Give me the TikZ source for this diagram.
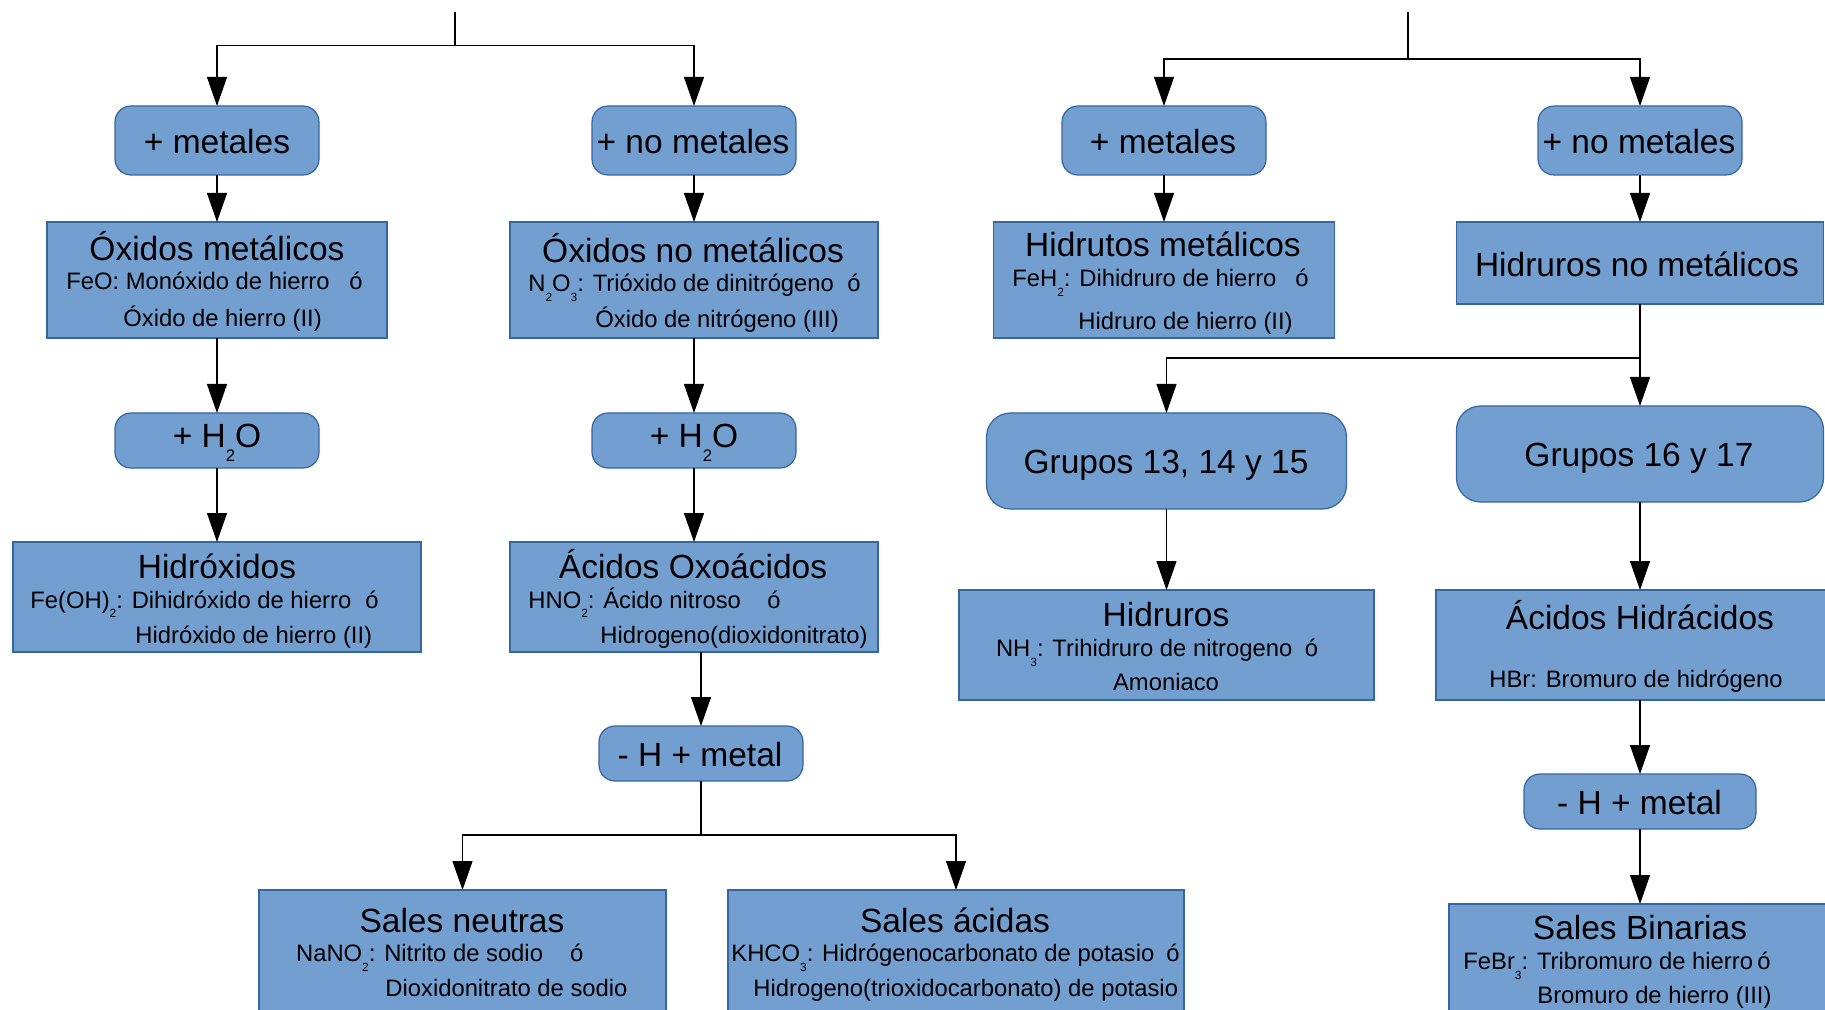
\documentclass[tikz,border=0pt]{standalone}
\usepackage{fontspec}
\setmainfont{Liberation Sans}
\usetikzlibrary{arrows.meta}
\definecolor{boxfill}{HTML}{729FCF}
\definecolor{boxline}{HTML}{3465A4}
% lowered, half-size subscript for chemical formulas
\newcommand{\dsub}[1]{\raisebox{-0.42em}{\scalebox{0.5}{#1}}}
\begin{document}
\begin{tikzpicture}[x=0.5pt,y=-0.5pt,
  box/.style={draw=boxline, fill=boxfill, line width=0.6pt, inner sep=0pt, outer sep=0pt},
  rbox/.style={box, rounded corners=8pt},
  gbox/.style={box, rounded corners=12pt},
  ttl/.style={font=\fontsize{16.75}{20}\selectfont, inner sep=0pt, anchor=base, yshift=-0.75pt},
  sub/.style={font=\fontsize{11.9}{14}\selectfont, inner sep=0pt, anchor=base west, yshift=-0.75pt},
  subc/.style={font=\fontsize{11.9}{14}\selectfont, inner sep=0pt, anchor=base, yshift=-0.75pt},
  arr/.style={-{Triangle[length=14.5pt,width=10pt]}, line width=0.55pt},
  ln/.style={line width=0.55pt}]
\useasboundingbox (0,0) rectangle (1825,1010);
\clip (0,0) rectangle (1825,1010);

% ---------- boxes ----------
\node[rbox, minimum width=102pt, minimum height=34.5pt] (m1)  at (217,140.5) {};
\node[rbox, minimum width=102pt, minimum height=34.5pt] (nm1) at (694,140.5) {};
\node[rbox, minimum width=102pt, minimum height=34.5pt] (m2)  at (1164,140.5) {};
\node[rbox, minimum width=102pt, minimum height=34.5pt] (nm2) at (1640,140.5) {};

\node[box, minimum width=170pt, minimum height=58pt] (om)   at (217,280) {};
\node[box, minimum width=184pt, minimum height=58pt] (onm)  at (694,280) {};
\node[box, minimum width=170.5pt, minimum height=58pt] (hmet) at (1164,280) {};
\node[box, minimum width=183.5pt, minimum height=41pt] (hnm)  at (1640,263) {};

\node[rbox, minimum width=102pt, minimum height=27.5pt] (h1) at (217,440.5) {};
\node[rbox, minimum width=102pt, minimum height=27.5pt] (h2) at (694,440.5) {};
\node[gbox, minimum width=180pt, minimum height=48pt] (g13) at (1166.5,461) {};
\node[gbox, minimum width=183.5pt, minimum height=48pt] (g16) at (1640,454) {};

\node[box, minimum width=204pt, minimum height=55pt] (hx)  at (217,597) {};
\node[box, minimum width=184pt, minimum height=55pt] (ox)  at (694,597) {};
\node[box, minimum width=207.5pt, minimum height=55pt] (hid) at (1166.5,645) {};
\node[box, minimum width=204pt, minimum height=55pt] (ah)  at (1640,645) {};

\node[rbox, minimum width=102pt, minimum height=27.5pt] (hm1) at (701,753.5) {};
\node[rbox, minimum width=116pt, minimum height=27.5pt] (hm2) at (1640,801.5) {};

\node[box, minimum width=203.5pt, minimum height=65pt] (sn) at (462.5,955) {};
\node[box, minimum width=228pt, minimum height=65pt] (sa) at (956,955) {};
\node[box, minimum width=191pt, minimum height=58pt] (sb) at (1640,962) {};

% ---------- texts ----------
\node[ttl] (m1t)  at (217,152.5)  {+ metales};
\node[ttl] (nm1t) at (693,152.5)  {+ no metales};
\node[ttl] (m2t)  at (1163,152.5) {+ metales};
\node[ttl] (nm2t) at (1639,152.5) {+ no metales};

\node[ttl] (omt) at (217,259) {Óxidos metálicos};
\node[sub] (oma) at (66,288.5) {\makebox[141.5pt][l]{FeO: Monóxido de hierro}ó};
\node[sub] (omb) at (123,324.7) {Óxido de hierro (II)};

\node[ttl] (onmt) at (693,261.5) {Óxidos no metálicos};
\node[sub] (onma) at (528,290) {\makebox[159.5pt][l]{N\dsub{2}O\dsub{3}: Trióxido de dinitrógeno}ó};
\node[sub] (onmb) at (595,326) {Óxido de nitrógeno (III)};

\node[ttl] (hmett) at (1163,255) {Hidrutos metálicos};
\node[sub] (hmeta) at (1012,285) {\makebox[141.5pt][l]{FeH\dsub{2}: Dihidruro de hierro}ó};
\node[sub] (hmetb) at (1078,328) {Hidruro de hierro (II)};

\node[ttl] (hnmt) at (1637,275) {Hidruros no metálicos};

\node[ttl] (h1t) at (217,446) {+ H\dsub{2}O};
\node[ttl] (h2t) at (694,446) {+ H\dsub{2}O};

\node[ttl] (g13t) at (1166,472) {Grupos 13, 14 y 15};
\node[ttl] (g16t) at (1639,465) {Grupos 16 y 17};

\node[ttl] (hxt) at (217,577) {Hidróxidos};
\node[sub] (hxa) at (30,606.5) {\makebox[167.5pt][l]{Fe(OH)\dsub{2}: Dihidróxido de hierro}ó};
\node[sub] (hxb) at (135,641.5) {Hidróxido de hierro (II)};

\node[ttl] (oxt) at (693,577) {Ácidos Oxoácidos};
\node[sub] (oxa) at (528,606.5) {\makebox[119.5pt][l]{HNO\dsub{2}: Ácido nitroso}ó};
\node[sub] (oxb) at (600,641.5) {Hidrogeno(dioxidonitrato)};

\node[ttl] (hidt) at (1166,625) {Hidruros};
\node[sub] (hida) at (995.6,655) {\makebox[154.5pt][l]{NH\dsub{3}: Trihidruro de nitrogeno}ó};
\node[subc] (hidb) at (1166,689) {Amoniaco};

\node[ttl] (aht) at (1640,628) {Ácidos Hidrácidos};
\node[subc] (aha) at (1636,686) {HBr: Bromuro de hidrógeno};

\node[ttl] (hm1t) at (700,765) {- H + metal};
\node[ttl] (hm2t) at (1639.5,813) {- H + metal};

\node[ttl] (snt) at (462,930.5) {Sales neutras};
\node[sub] (sna) at (295.7,960) {\makebox[137pt][l]{NaNO\dsub{2}: Nitrito de sodio}ó};
\node[sub] (snb) at (385,995) {Dioxidonitrato de sodio};

\node[ttl] (sat) at (955,930.5) {Sales ácidas};
\node[sub] (saa) at (731,960) {\makebox[217.5pt][l]{KHCO\dsub{3}: Hidrógenocarbonato de potasio}ó};
\node[sub] (sab) at (753,995) {Hidrogeno(trioxidocarbonato) de potasio};

\node[ttl] (sbt) at (1640,938) {Sales Binarias};
\node[sub] (sba) at (1463,968) {\makebox[147pt][l]{FeBr\dsub{3}: Tribromuro de hierro}ó};
\node[sub] (sbb) at (1537,1001.6) {Bromuro de hierro (III)};

% ---------- connectors ----------
\coordinate (topL) at (455,12);
\coordinate (forkL) at (455,45.6);
\draw[ln] (topL) -- (forkL);
\draw[arr] (forkL) -| (m1.north);
\draw[arr] (forkL) -| (nm1.north);

\coordinate (topR) at (1408,12);
\coordinate (forkR) at (1408,59);
\draw[ln] (topR) -- (forkR);
\draw[arr] (forkR) -| (m2.north);
\draw[arr] (forkR) -| (nm2.north);

\draw[arr] (m1.south) -- (om.north);
\draw[arr] (om.south) -- (h1.north);
\draw[arr] (h1.south) -- (hx.north);

\draw[arr] (nm1.south) -- (onm.north);
\draw[arr] (onm.south) -- (h2.north);
\draw[arr] (h2.south) -- (ox.north);
\draw[arr] (hm1.north |- ox.south) -- (hm1.north);

\coordinate (forkS) at (701,835);
\draw[ln] (hm1.south) -- (forkS);
\draw[arr] (forkS) -| (sn.north);
\draw[arr] (forkS) -| (sa.north);

\draw[arr] (m2.south) -- (hmet.north);
\draw[arr] (nm2.south) -- (hnm.north);

\coordinate (forkH) at (1640,358);
\draw[ln] (hnm.south) -- (forkH);
\draw[arr] (forkH) -| (g13.north);
\draw[arr] (forkH) -- (g16.north);

\draw[arr] (g13.south) -- (hid.north);
\draw[arr] (g16.south) -- (ah.north);
\draw[arr] (ah.south) -- (hm2.north);
\draw[arr] (hm2.south) -- (sb.north);
\end{tikzpicture}
\end{document}
